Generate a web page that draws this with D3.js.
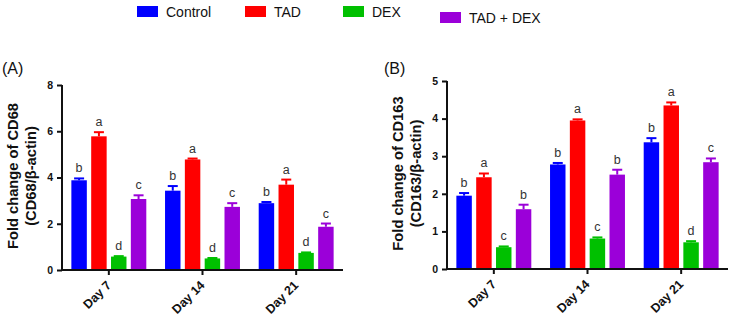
<!DOCTYPE html>
<html>
<head>
<meta charset="utf-8">
<script src="https://cdn.jsdelivr.net/npm/d3@7"></script>
<style>
  body { margin: 0; background: #fff; }
  svg text { font-family: "Liberation Sans", Arial, sans-serif; }
</style>
</head>
<body>
<div id="chart"></div>
<script>
const days = ['Day 7', 'Day 14', 'Day 21']
const groups = ['Control', 'TAD', 'DEX', 'TAD + DEX']
const colors = ['#0000ff', '#ff0000', '#00c000', '#9b00d9']

// panel A: CD68
const cd68Values = [
  [3.88, 5.78, 0.58, 3.07],
  [3.43, 4.78, 0.50, 2.73],
  [2.89, 3.69, 0.74, 1.87]
]
const cd68Err = [
  [0.08, 0.18, 0.02, 0.16],
  [0.20, 0.04, 0.02, 0.16],
  [0.05, 0.22, 0.02, 0.14]
]
const cd68Letters = [
  ['b', 'a', 'd', 'c'],
  ['b', 'a', 'd', 'c'],
  ['b', 'a', 'd', 'c']
]
const cd68Ticks = [0, 2, 4, 6, 8]

// panel B: CD163
const cd163Values = [
  [1.95, 2.44, 0.58, 1.59],
  [2.78, 3.95, 0.81, 2.51],
  [3.37, 4.35, 0.71, 2.84]
]
const cd163Err = [
  [0.07, 0.10, 0.02, 0.12],
  [0.04, 0.03, 0.03, 0.13],
  [0.11, 0.08, 0.03, 0.10]
]
const cd163Letters = [
  ['b', 'a', 'c', 'b'],
  ['b', 'a', 'c', 'b'],
  ['b', 'a', 'd', 'c']
]
const cd163Ticks = [0, 1, 2, 3, 4, 5]

const width = 733,
      height = 321

const svg = d3.select('#chart')
  .append('svg')
  .attr('width', width)
  .attr('height', height)

// legend
const legendX = [137, 245, 343, 440]
const legendY = [6, 6, 6, 12]
const legend = svg.append('g')
groups.forEach(function(g, i) {
  legend.append('rect')
    .attr('x', legendX[i]).attr('y', legendY[i])
    .attr('width', 21).attr('height', 11)
    .attr('fill', colors[i])
  legend.append('text')
    .attr('x', legendX[i] + 29).attr('y', legendY[i] + 11)
    .attr('font-size', 14)
    .attr('fill', '#111')
    .text(g)
})

function panel(opts) {
  const g = svg.append('g')

  const y = d3.scaleLinear()
    .domain([0, opts.max])
    .range([opts.bottom, opts.top])

  const x0 = d3.scaleBand()
    .domain(days)
    .range([opts.left, opts.right])
    .paddingInner(0.2)
    .paddingOuter(0.1)

  const x1 = d3.scaleBand()
    .domain(groups)
    .range([0, x0.bandwidth()])
    .paddingInner(0.22)

  // bars
  days.forEach(function(day, di) {
    groups.forEach(function(grp, gi) {
      const v = opts.values[di][gi]
      const e = opts.err[di][gi]
      const bx = x0(day) + x1(grp)
      const cx = bx + x1.bandwidth() / 2
      g.append('rect')
        .attr('x', bx)
        .attr('y', y(v))
        .attr('width', x1.bandwidth())
        .attr('height', y(0) - y(v))
        .attr('fill', colors[gi])
      // error bar (upper only)
      g.append('line')
        .attr('x1', cx).attr('x2', cx)
        .attr('y1', y(v)).attr('y2', y(v + e))
        .attr('stroke', colors[gi]).attr('stroke-width', 2)
      g.append('line')
        .attr('x1', cx - 5).attr('x2', cx + 5)
        .attr('y1', y(v + e)).attr('y2', y(v + e))
        .attr('stroke', colors[gi]).attr('stroke-width', 2)
      g.append('text')
        .attr('x', cx)
        .attr('y', y(v + e) - 6)
        .attr('text-anchor', 'middle')
        .attr('font-size', 12.5)
        .attr('fill', '#333')
        .text(opts.letters[di][gi])
    })
  })

  // y axis
  const yAxis = g.append('g')
    .attr('transform', 'translate(' + opts.left + ',0)')
    .call(d3.axisLeft(y).tickValues(opts.ticks).tickSize(5).tickPadding(4).tickFormat(d3.format('d')))
  yAxis.selectAll('path, line').attr('stroke', '#111').attr('stroke-width', 2)
  yAxis.select('path').attr('d', 'M0,' + (opts.bottom + 1) + 'V' + opts.top)
  yAxis.selectAll('text')
    .attr('font-size', 10.5).attr('font-weight', 'bold').attr('fill', '#111')
    .style('font-family', '"Liberation Sans", Arial, sans-serif')

  // x axis
  const xAxis = g.append('g')
    .attr('transform', 'translate(0,' + opts.bottom + ')')
    .call(d3.axisBottom(x0).tickSize(5).tickSizeOuter(0))
  xAxis.selectAll('path, line').attr('stroke', '#111').attr('stroke-width', 2)
  xAxis.select('path').attr('d', 'M' + (opts.left - 1) + ',0H' + opts.right)
  xAxis.selectAll('text')
    .attr('font-size', 12.5).attr('font-weight', 'bold').attr('fill', '#111')
    .style('font-family', '"Liberation Sans", Arial, sans-serif')
    .attr('text-anchor', 'end')
    .attr('x', 0).attr('y', 0).attr('dy', 0)
    .attr('transform', 'translate(3,16) rotate(-45)')

  // y title
  const midY = (opts.top + opts.bottom) / 2 - 1.5
  g.append('text')
    .attr('transform', 'translate(' + (opts.left - 44) + ',' + midY + ') rotate(-90)')
    .attr('text-anchor', 'middle')
    .attr('font-size', 14.7)
    .attr('font-weight', 'bold')
    .attr('fill', '#111')
    .text(opts.title1)
  g.append('text')
    .attr('transform', 'translate(' + (opts.left - 26.5) + ',' + midY + ') rotate(-90)')
    .attr('text-anchor', 'middle')
    .attr('font-size', 14.7)
    .attr('font-weight', 'bold')
    .attr('fill', '#111')
    .text(opts.title2)

  // panel label
  g.append('text')
    .attr('x', opts.labelX).attr('y', 74)
    .attr('font-size', 16)
    .attr('fill', '#111')
    .text(opts.label)
}

panel({
  values: cd68Values, err: cd68Err, letters: cd68Letters, ticks: cd68Ticks,
  max: 8, left: 62, right: 343, top: 85, bottom: 270,
  title1: 'Fold change of CD68', title2: '(CD68/\u03b2-actin)',
  label: '(A)', labelX: 2
})

panel({
  values: cd163Values, err: cd163Err, letters: cd163Letters, ticks: cd163Ticks,
  max: 5, left: 447, right: 728, top: 81, bottom: 269,
  title1: 'Fold change of CD163', title2: '(CD163/\u03b2-actin)',
  label: '(B)', labelX: 384
})
</script>
</body>
</html>
